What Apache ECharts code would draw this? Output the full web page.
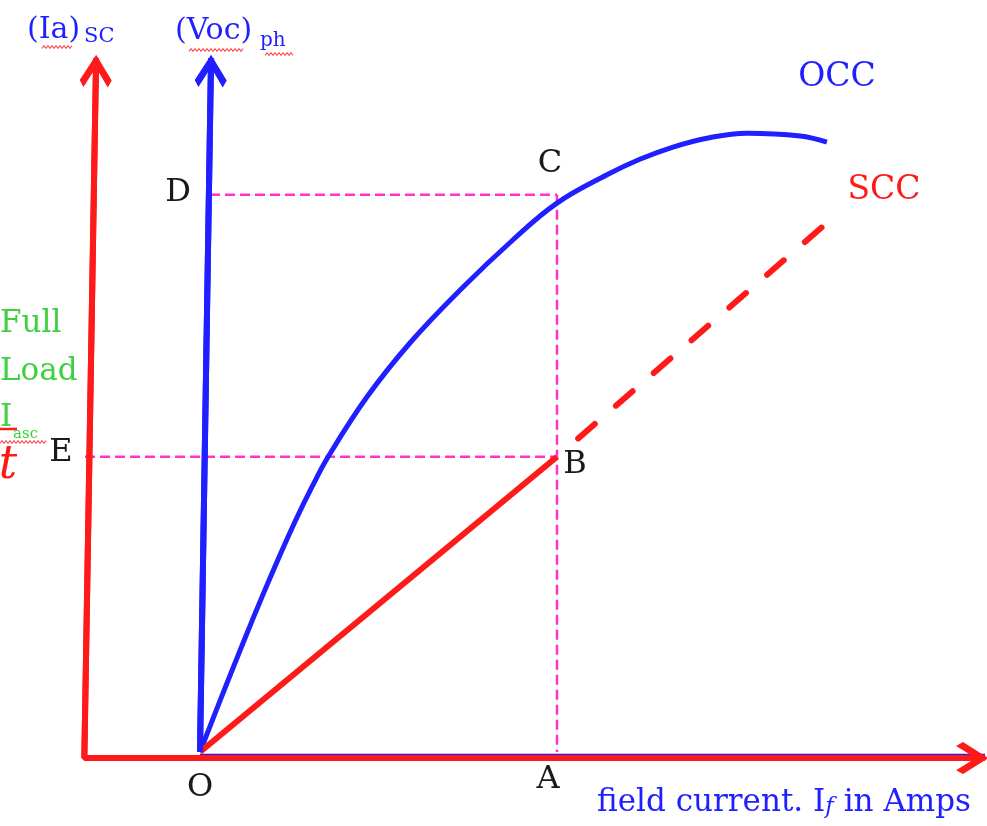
<!DOCTYPE html>
<html>
<head>
<meta charset="utf-8">
<script src="https://cdn.jsdelivr.net/npm/echarts@6.0.0/dist/echarts.min.js"></script>
<style>
html, body { margin: 0; padding: 0; background: #fff; }
#main { width: 987px; height: 826px; }
</style>
</head>
<body>
<div id="main"></div>
<script>
// x 轴以 OA = 10 为单位, y 轴以 OD = 10 为单位
var occ = [[0, 0], [0.40, 0.66], [0.78, 1.28], [1.26, 2.05], [1.74, 2.80], [2.18, 3.46], [2.66, 4.15],
    [3.14, 4.78], [3.59, 5.32], [4.68, 6.40], [5.88, 7.37], [7.28, 8.32], [8.77, 9.23], [10.0, 9.89],
    [11.40, 10.40], [12.32, 10.68], [13.25, 10.90], [14.20, 11.06], [15.32, 11.15], [16.81, 11.10],
    [17.56, 10.99]];
var sccSolid = [[0, 0], [10, 5.32]];
var sccDashed = [[10, 5.32], [17.59, 9.55]];

// 坐标轴（带箭头）
var iaAxis = [[-2.91, 12.50], [-3.24, -0.11], [21.99, -0.11]];
var vocAxis = [[0, 0], [0.31, 12.50]];
var ifAxisBlue = [[0, -0.06], [21.99, -0.06]];

// 虚线 D-C, C-A, E-B
var lineD = [[0.28, 10.04], [10, 10.04]];
var lineCA = [[10, 10.04], [10, 0]];
var lineE = [[-3.22, 5.32], [10, 5.32]];

var pointLabels = ['D', 'C', 'E', 'B', 'O', 'A'];

var myChart = echarts.init(document.getElementById('main'));

var BLUE = '#1f1fff', RED = '#ff1a1a', PINK = '#ff33cc', GREEN = '#3fd03f', INK = '#1a1a1a';
var SERIF = '"DejaVu Serif", serif';
// 箭头：尖端在图形中心，翼向下
var arrowPath = 'path://M50,0 M50,44 L100,88 L88,100 L50,66 L12,100 L0,88 Z';

function arrowMark(from, to, color, width) {
    return {
        silent: true,
        animation: false,
        label: { show: false },
        lineStyle: { color: color, width: width, type: 'solid', opacity: 1 },
        data: [[{ coord: from, symbol: 'none' }, { coord: to, symbol: arrowPath, symbolSize: [32, 58] }]]
    };
}

function plain(name, data, color, width, dash, extra) {
    var s = {
        name: name,
        type: 'line',
        data: data,
        symbol: 'none',
        silent: true,
        animation: false,
        clip: false,
        lineStyle: { color: color, width: width, type: dash || 'solid' }
    };
    for (var k in extra) s[k] = extra[k];
    return s;
}

function txt(text, x, y, size, color, align, font) {
    return {
        type: 'text',
        x: x,
        y: y,
        silent: true,
        style: {
            text: text,
            fill: color,
            font: font || (size + 'px ' + SERIF),
            align: align || 'center',
            textAlign: align || 'center',
            verticalAlign: 'middle',
            textVerticalAlign: 'middle'
        }
    };
}

// 拼写检查的红色波浪线
function squiggle(x0, x1, y) {
    var pts = [];
    for (var x = x0, i = 0; x <= x1; x += 2, i++) pts.push([x, y + (i % 2 ? -1.3 : 1.3)]);
    return { type: 'polyline', silent: true, shape: { points: pts }, style: { stroke: '#ff5050', lineWidth: 1.1, fill: null } };
}

var labelPos = { D: [178, 193], C: [550, 164], E: [61, 453], B: [575, 465], O: [200, 788], A: [548, 780] };
var graphics = pointLabels.map(function (n) {
    return txt(n, labelPos[n][0], labelPos[n][1], 32, INK);
});
graphics = graphics.concat([
    txt('(Ia)', 27, 30, 30, BLUE, 'left'),
    txt('SC', 84, 37, 21, BLUE, 'left'),
    txt('(Voc)', 175, 31, 30, BLUE, 'left'),
    txt('ph', 260, 41, 20, BLUE, 'left'),
    squiggle(42, 72, 47),
    squiggle(189, 244, 50),
    squiggle(265, 293, 54),
    txt('OCC', 837, 77, 33, BLUE),
    txt('SCC', 884, 190, 33, RED),
    txt('Full', 0, 324, 31, GREEN, 'left'),
    txt('Load', 0, 372, 31, GREEN, 'left'),
    txt('I', 0, 418, 31, GREEN, 'left'),
    txt('asc', 13, 434, 15, GREEN, 'left'),
    squiggle(0, 46, 442),
    { type: 'line', silent: true, shape: { x1: 0, y1: 429, x2: 17, y2: 429 }, style: { stroke: RED, lineWidth: 2.5 } },
    txt('t', 8, 466, 46, RED, 'center', 'italic 46px ' + SERIF),
    {
        type: 'text',
        x: 597,
        y: 803,
        silent: true,
        style: {
            text: '{a|field current. I}{b|f}{a| in Amps}',
            align: 'left',
            textAlign: 'left',
            verticalAlign: 'middle',
            textVerticalAlign: 'middle',
            rich: {
                a: { fontFamily: SERIF, fontSize: 31, fill: BLUE, color: BLUE },
                b: { fontFamily: SERIF, fontSize: 23, fontStyle: 'italic', fill: BLUE, color: BLUE, lineHeight: 14, verticalAlign: 'bottom' }
            }
        }
    }
]);

option = {
    backgroundColor: '#fff',
    animation: false,
    grid: { left: 0, right: 0, top: 0, bottom: 0 },
    xAxis: { type: 'value', min: -5.602, max: 22.045, show: false, splitLine: { show: false } },
    yAxis: { type: 'value', min: -1.333, max: 13.55, show: false, splitLine: { show: false } },
    series: [
        plain('lineD', lineD, PINK, 2.5, [10, 5]),
        plain('lineCA', lineCA, PINK, 2.5, [10, 5]),
        plain('lineE', lineE, PINK, 2.5, [10, 5]),
        plain('ifBlue', ifAxisBlue, BLUE, 3),
        plain('iaAxis', iaAxis, RED, 6, 'solid', {
            markLine: {
                silent: true,
                animation: false,
                label: { show: false },
                lineStyle: { color: RED, width: 6, type: 'solid', opacity: 1 },
                data: [
                    [{ coord: iaAxis[1], symbol: 'none' }, { coord: iaAxis[0], symbol: arrowPath, symbolSize: [32, 58] }],
                    [{ coord: iaAxis[1], symbol: 'none' }, { coord: iaAxis[2], symbol: arrowPath, symbolSize: [32, 58] }]
                ]
            }
        }),
        plain('vocAxis', vocAxis, BLUE, 6, 'solid', { markLine: arrowMark(vocAxis[0], vocAxis[1], BLUE, 6) }),
        plain('OCC', occ, BLUE, 5, 'solid', { smooth: 0.4 }),
        plain('SCC', sccSolid, RED, 6),
        plain('SCC ext', sccDashed, RED, 6, [22, 28], {
            lineStyle: { color: RED, width: 6, type: [22, 28], dashOffset: 22, cap: 'round' }
        })
    ],
    graphic: graphics
};

myChart.setOption(option);
</script>
</body>
</html>
